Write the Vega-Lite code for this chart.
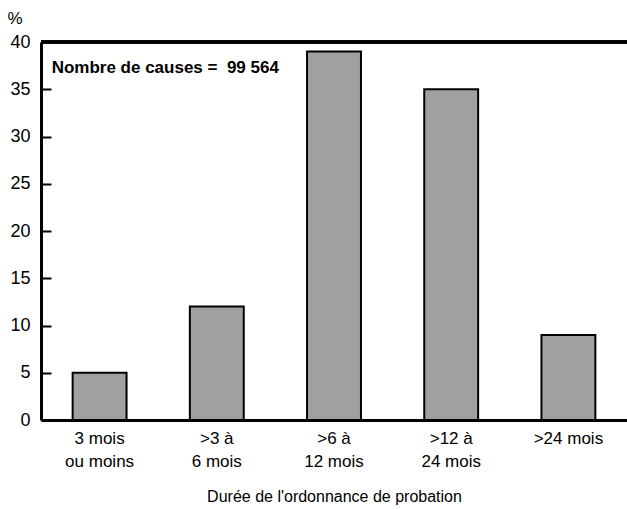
{
  "$schema": "https://vega.github.io/schema/vega-lite/v6.json",
  "width": 586,
  "height": 378,
  "autosize": {"type": "none"},
  "padding": {"left": 41, "top": 42, "right": 0, "bottom": 89},
  "background": "white",
  "config": {
    "view": {"stroke": null},
    "font": "Liberation Sans",
    "axis": {"labelFont": "Liberation Sans", "titleFont": "Liberation Sans", "labelColor": "black", "titleColor": "black", "domainColor": "black", "tickColor": "black", "grid": false}
  },
  "data": {
    "values": [
      {"duree": "3 mois|ou moins", "pct": 5},
      {"duree": ">3 à|6 mois", "pct": 12},
      {"duree": ">6 à|12 mois", "pct": 39},
      {"duree": ">12 à|24 mois", "pct": 35},
      {"duree": ">24 mois", "pct": 9}
    ]
  },
  "layer": [
    {
      "mark": {"type": "bar", "fill": "#a0a0a0", "stroke": "black", "strokeWidth": 2},
      "encoding": {
        "x": {
          "field": "duree", "type": "nominal",
          "sort": ["3 mois|ou moins", ">3 à|6 mois", ">6 à|12 mois", ">12 à|24 mois", ">24 mois"],
          "scale": {"paddingInner": 0.54, "paddingOuter": 0.27},
          "axis": {
            "title": "Durée de l'ordonnance de probation",
            "titleFontSize": 16, "titleFontWeight": "normal", "titlePadding": 19,
            "labelAngle": 0, "labelFontSize": 17, "labelPadding": 10, "labelLineHeight": 23,
            "labelExpr": "split(datum.label, '|')",
            "ticks": false, "domainWidth": 3
          }
        },
        "y": {
          "field": "pct", "type": "quantitative",
          "scale": {"domain": [0, 40], "nice": false},
          "axis": {
            "title": "%", "titleAngle": 0, "titleFontSize": 17, "titleFontWeight": "normal",
            "titleX": -34, "titleY": -24, "titleAlign": "left", "titleBaseline": "middle",
            "values": [0, 5, 10, 15, 20, 25, 30, 35, 40],
            "labelFontSize": 18, "tickSize": -10, "tickWidth": 2, "labelPadding": 21,
            "domainWidth": 3
          }
        }
      }
    },
    {
      "mark": {"type": "rule", "stroke": "black", "strokeWidth": 3},
      "encoding": {"y": {"datum": 40}}
    },
    {
      "data": {"values": [{"duree": "3 mois|ou moins", "y": 37.3, "txt": "Nombre de causes = \u00a099 564"}]},
      "mark": {"type": "text", "align": "left", "baseline": "middle", "fontWeight": "bold", "fontSize": 17, "dx": -21, "font": "Liberation Sans"},
      "encoding": {
        "x": {"field": "duree", "type": "nominal", "bandPosition": 0, "sort": ["3 mois|ou moins", ">3 à|6 mois", ">6 à|12 mois", ">12 à|24 mois", ">24 mois"]},
        "y": {"field": "y", "type": "quantitative"},
        "text": {"field": "txt"}
      }
    }
  ]
}
